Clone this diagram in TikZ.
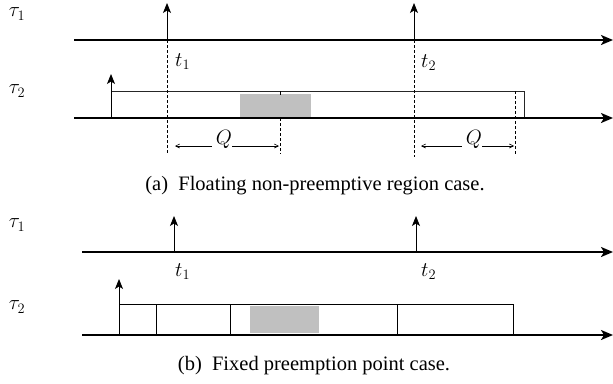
\documentclass[tikz,border=0pt]{standalone}
\usepackage[no-math]{fontspec}
\setmainfont{Liberation Serif}
\newfontfamily\capfont{Liberation Serif}
\usetikzlibrary{arrows.meta}
\definecolor{blockgray}{HTML}{C0C0C0}
\begin{document}
\begin{tikzpicture}[x=1pt,y=-1pt,
  axisline/.style={line width=1.8pt,-{Stealth[length=12pt,width=10pt,inset=3pt]}},
  release/.style={line width=0.9pt,-{Stealth[length=10pt,width=8pt,inset=2.5pt]}},
  jobbox/.style={draw=black!85,line width=0.8pt},
  npblock/.style={fill=blockgray,draw=none},
  guide/.style={line width=0.6pt,dash pattern=on 3pt off 2pt},
  divider/.style={line width=0.7pt},
  span/.style={line width=0.6pt,-{Straight Barb[length=4pt,width=4pt]}},
  tasklbl/.style={font=\fontsize{20}{24}\selectfont,inner sep=0pt},
  timelbl/.style={font=\fontsize{21}{25}\selectfont,inner sep=0pt},
  caption/.style={font=\capfont\fontsize{20.5}{24}\selectfont,inner sep=0pt}]
\useasboundingbox (0,0) rectangle (613,383);

% ---------------- (a) floating non-preemptive region ----------------
\node[tasklbl] (a-tau1) at (17,14) {$\tau_1$};
\node[tasklbl] (a-tau2) at (17,91) {$\tau_2$};

\coordinate (a-ax1s) at (74,40);
\coordinate (a-ax1e) at (613,40);
\coordinate (a-ax2s) at (74,118);
\coordinate (a-ax2e) at (613,118);

% job of tau2
\draw[jobbox] (111,91) rectangle (524,118);
\node[npblock,minimum width=71pt,minimum height=23pt,inner sep=0pt,anchor=north west] (a-np) at (240,94) {};

\draw[axisline] (a-ax1s) -- (a-ax1e);
\draw[axisline] (a-ax2s) -- (a-ax2e);

% releases
\coordinate (a-r1) at (167,40);
\coordinate (a-r1top) at (167,3);
\coordinate (a-r2) at (414,40);
\coordinate (a-r2top) at (414,3);
\coordinate (a-j2) at (111,118);
\coordinate (a-j2top) at (111,74);
\draw[release] (a-r1) -- (a-r1top);
\draw[release] (a-r2) -- (a-r2top);
\draw[release] (a-j2) -- (a-j2top);

% guides
\draw[guide] (a-r1) -- (167,154);
\draw[guide] (a-r2) -- (414,157);
\draw[guide] (280,118) -- (280,154);
\draw[divider] (280,91) -- (280,95);
\draw[guide] (515,91) -- (515,154);

\node[timelbl,anchor=base west] (a-t1) at (175,66) {$t_1$};
\node[timelbl,anchor=base west] (a-t2) at (421,67) {$t_2$};

% Q spans
\node[timelbl,anchor=base] (a-q1) at (224,144) {$Q$};
\draw[span] (a-q1.west |- 0,146) ++(-4,0) -- (175,146);
\draw[span] (a-q1.east |- 0,146) -- (279,146);
\node[timelbl,anchor=base] (a-q2) at (474,144) {$Q$};
\draw[span] (a-q2.west |- 0,146) ++(-4,0) -- (421,146);
\draw[span] (a-q2.east |- 0,146) -- (514,146);

\node[caption] (a-cap) at (315,186) {(a)\enspace Floating non-preemptive region case.};

% ---------------- (b) fixed preemption points ----------------
\node[tasklbl] (b-tau1) at (17,225) {$\tau_1$};
\node[tasklbl] (b-tau2) at (17,307) {$\tau_2$};

\coordinate (b-ax1s) at (82,252);
\coordinate (b-ax1e) at (613,252);
\coordinate (b-ax2s) at (82,335);
\coordinate (b-ax2e) at (613,335);

\draw[jobbox,draw=black] (119,304) rectangle (513,335);
\node[npblock,minimum width=69pt,minimum height=27pt,inner sep=0pt,anchor=north west] (b-np) at (250,306) {};
\draw[divider] (156,304) -- (156,335);
\draw[divider] (230,304) -- (230,335);
\draw[divider] (397,304) -- (397,335);

\draw[axisline] (b-ax1s) -- (b-ax1e);
\draw[axisline] (b-ax2s) -- (b-ax2e);

\coordinate (b-r1) at (174,252);
\coordinate (b-r1top) at (174,216);
\coordinate (b-r2) at (416,252);
\coordinate (b-r2top) at (416,216);
\coordinate (b-j2) at (119,335);
\coordinate (b-j2top) at (119,279);
\draw[release] (b-r1) -- (b-r1top);
\draw[release] (b-r2) -- (b-r2top);
\draw[release] (b-j2) -- (b-j2top);

\node[timelbl,anchor=base west] (b-t1) at (175,276) {$t_1$};
\node[timelbl,anchor=base west] (b-t2) at (421,276) {$t_2$};

\node[caption] (b-cap) at (314,366) {(b)\enspace Fixed preemption point case.};
\end{tikzpicture}
\end{document}
